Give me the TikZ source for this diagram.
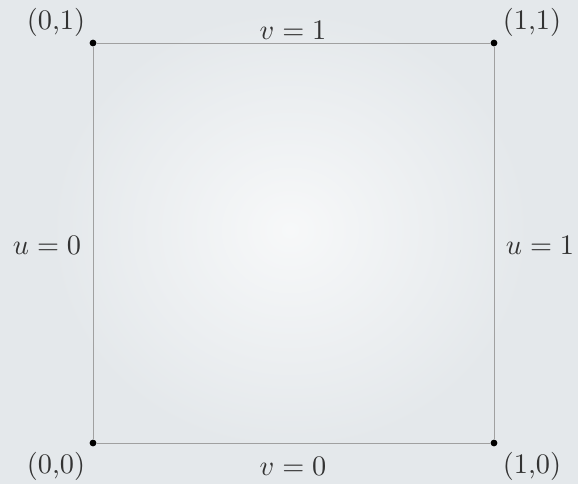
\documentclass[tikz,border=0pt]{standalone}
\definecolor{bgc}{RGB}{228,232,235}
\definecolor{linec}{RGB}{160,160,160}
\begin{document}
\begin{tikzpicture}[x=0.3533pt,y=-0.3533pt,
  edge/.style={draw=linec,line width=0.35pt},
  dotc/.style={circle,fill=black,inner sep=0pt,minimum size=2.4pt},
  lbl/.style={text=black!80,inner sep=0pt}]
\fill[bgc] (0,0) rectangle (578,484);
\shade[inner color=bgc!30!white,outer color=bgc] (290,230) ellipse [x radius=240,y radius=220];
\useasboundingbox (0,0) rectangle (578,484);
\node[dotc] (a) at (93,443) {};
\node[dotc] (b) at (494,443) {};
\node[dotc] (c) at (494,43) {};
\node[dotc] (d) at (93,43) {};
\draw[edge] (a) -- (b) -- (c) -- (d) -- (a);
\node[lbl] (la) at (56,466) {(0,0)};
\node[lbl] (lb) at (532,466) {(1,0)};
\node[lbl] (lc) at (532,22) {(1,1)};
\node[lbl] (ld) at (56,22) {(0,1)};
\node[lbl] (e1) at (293,466) {$v=0$};
\node[lbl] (e2) at (293,30) {$v=1$};
\node[lbl] (e3) at (47,245) {$u=0$};
\node[lbl] (e4) at (540,245) {$u=1$};
\end{tikzpicture}
\end{document}
